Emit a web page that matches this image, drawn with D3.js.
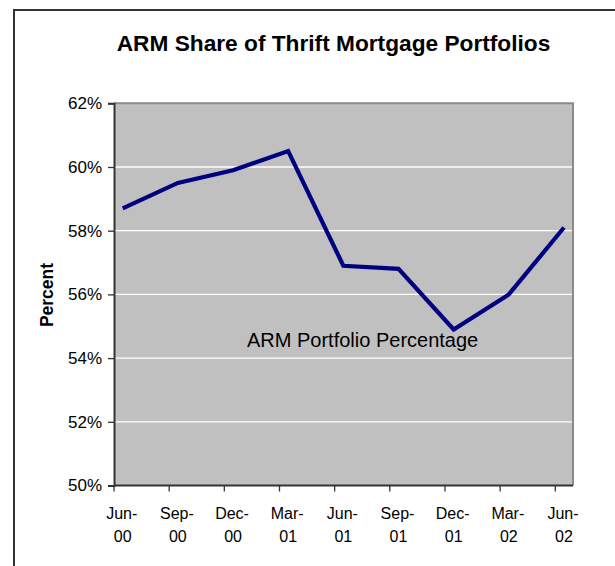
<!DOCTYPE html>
<html>
<head>
<meta charset="utf-8">
<script src="https://cdn.jsdelivr.net/npm/d3@7"></script>
<style>
html,body{margin:0;padding:0;background:#fff;}
svg{display:block;}
text{font-family:"Liberation Sans",Arial,sans-serif;fill:#000;}
</style>
</head>
<body>
<script>
const categories = ["Jun-00","Sep-00","Dec-00","Mar-01","Jun-01","Sep-01","Dec-01","Mar-02","Jun-02"];
const values = [58.7, 59.5, 59.9, 60.5, 56.9, 56.8, 54.9, 56.0, 58.1];
const yTicks = [50, 52, 54, 56, 58, 60, 62];
const title = "ARM Share of Thrift Mortgage Portfolios";
const yTitle = "Percent";
const seriesLabel = "ARM Portfolio Percentage";

const W = 615, H = 566;
const plot = {left: 114, right: 573, top: 103.3, bottom: 485.5};

const svg = d3.select("body").append("svg").attr("width", W).attr("height", H);

// outer chart border (extends past the canvas on right/bottom)
svg.append("rect").attr("x", 14).attr("y", 10).attr("width", 700).attr("height", 700)
  .attr("fill", "#fff").attr("stroke", "#333").attr("stroke-width", 2);

const x = d3.scalePoint().domain(categories).range([122.7, 564]);
const tickOffset = -8.7;
const y = d3.scaleLinear().domain([50, 62]).range([plot.bottom, plot.top]);

// plot background
svg.append("rect").attr("x", plot.left).attr("y", plot.top)
  .attr("width", plot.right - plot.left).attr("height", plot.bottom - plot.top)
  .attr("fill", "#c0c0c0");

// gridlines
svg.append("g").selectAll("line").data(yTicks.filter(t => t > 50 && t < 62)).join("line")
  .attr("x1", plot.left).attr("x2", plot.right)
  .attr("y1", d => y(d)).attr("y2", d => y(d))
  .attr("stroke", "#fff").attr("stroke-width", 1.3);

// plot border top/right
svg.append("path")
  .attr("d", `M${plot.left},${plot.top}H${plot.right}V${plot.bottom}`)
  .attr("fill", "none").attr("stroke", "#8a8a8a").attr("stroke-width", 2);

// y axis
const yAxis = svg.append("g").attr("transform", `translate(${plot.left},0)`)
  .call(d3.axisLeft(y).tickValues(yTicks).tickFormat(d => d + "%").tickSize(6).tickPadding(6));
yAxis.select(".domain").attr("stroke", "#333").attr("stroke-width", 2);
yAxis.selectAll(".tick line").attr("stroke", "#333").attr("stroke-width", 1.3);
yAxis.selectAll(".tick text").attr("font-size", 17).attr("font-family", "Liberation Sans, Arial, sans-serif").attr("fill", "#000");

// x axis
const xg = svg.append("g");
xg.append("line").attr("x1", plot.left).attr("x2", plot.right)
  .attr("y1", plot.bottom).attr("y2", plot.bottom).attr("stroke", "#333").attr("stroke-width", 2);
xg.selectAll("line.tick").data(categories).join("line").attr("class", "tick")
  .attr("x1", d => x(d) + tickOffset).attr("x2", d => x(d) + tickOffset)
  .attr("y1", plot.bottom).attr("y2", plot.bottom + 6)
  .attr("stroke", "#333").attr("stroke-width", 1.3);
const xl = xg.selectAll("text.lab").data(categories).join("text").attr("class", "lab")
  .attr("text-anchor", "middle").attr("font-size", 16);
xl.append("tspan").attr("x", d => x(d) - 1).attr("y", 519).text(d => d.split("-")[0] + "-");
xl.append("tspan").attr("x", d => x(d)).attr("y", 541.5).text(d => d.split("-")[1]);

// line
svg.append("path").datum(values)
  .attr("d", d3.line().x((d, i) => x(categories[i])).y(d => y(d)))
  .attr("fill", "none").attr("stroke", "#000080").attr("stroke-width", 4.2)
  .attr("stroke-linejoin", "miter");

// series label
svg.append("text").attr("x", 247).attr("y", 347).attr("font-size", 20).text(seriesLabel);

// title
svg.append("text").attr("x", 333.5).attr("y", 51).attr("text-anchor", "middle")
  .attr("font-size", 22.7).attr("font-weight", "bold").text(title);

// y title
svg.append("text").attr("transform", `translate(53,295) rotate(-90)`)
  .attr("text-anchor", "middle").attr("font-size", 17.5).attr("font-weight", "bold").text(yTitle);
</script>
</body>
</html>
